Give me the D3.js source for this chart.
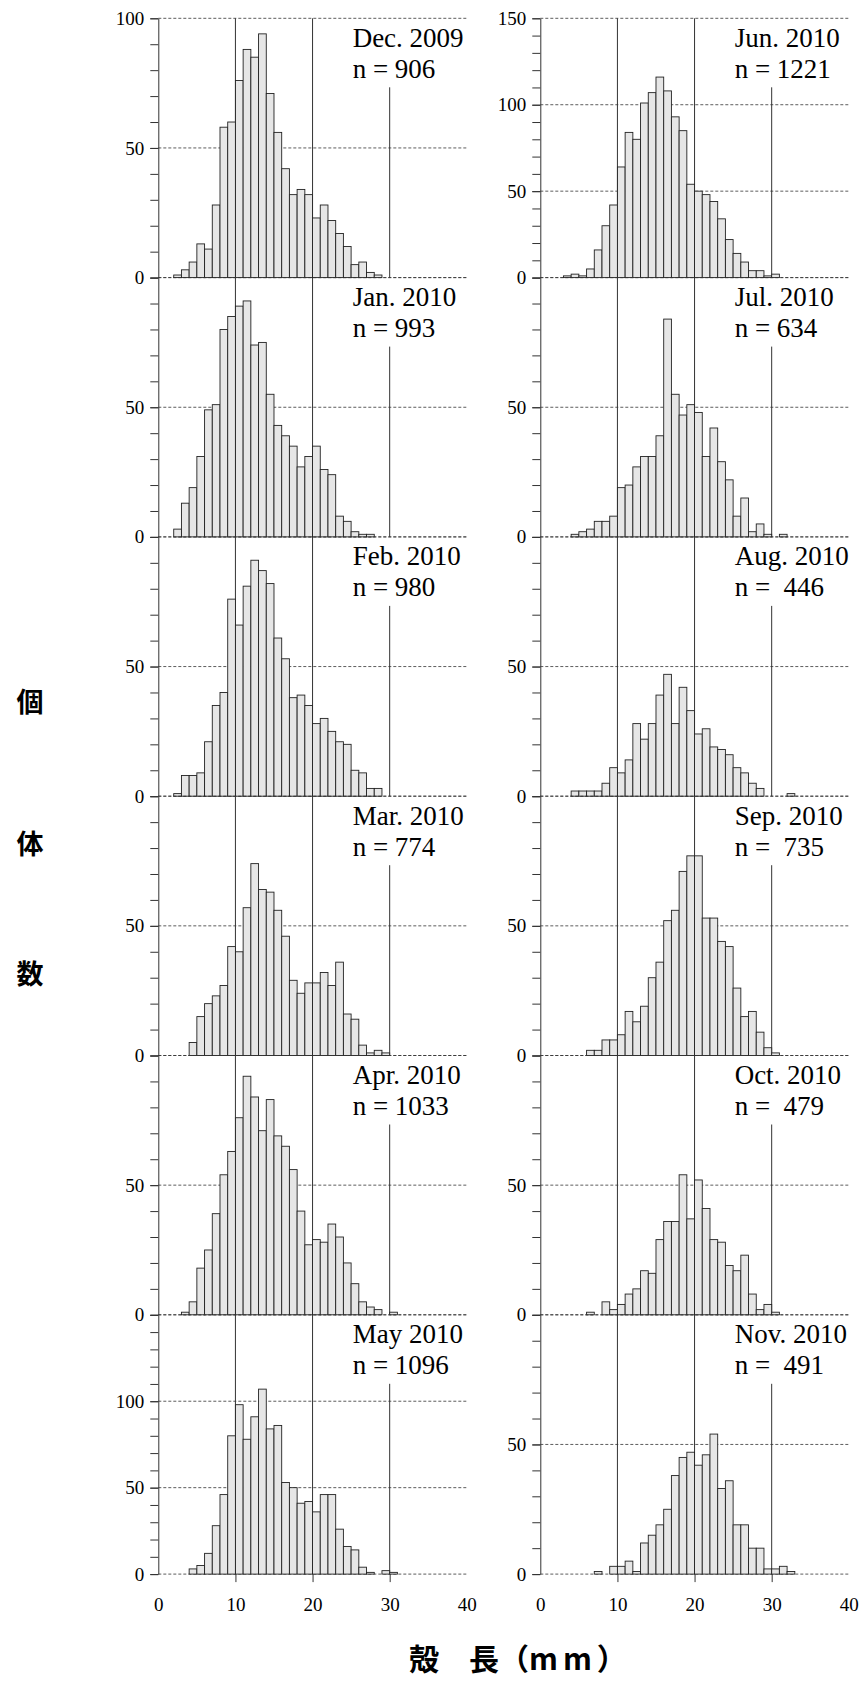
<!DOCTYPE html>
<html>
<head>
<meta charset="utf-8">
<script src="https://cdn.jsdelivr.net/npm/d3@7"></script>
<style>
  body { margin: 0; background: #fff; }
  svg { display: block; }
  .tick text { font-family: "Liberation Serif", serif; font-size: 19px; fill: #000; }
  .label { font-family: "Liberation Serif", serif; font-size: 27px; fill: #000; white-space: pre; }
  .title { font-family: "Noto Sans CJK JP", sans-serif; font-weight: bold; fill: #000; }
</style>
</head>
<body>
<svg id="chart" width="863" height="1698"></svg>
<script>
// panels: left column Dec..May, right column Jun..Nov
var months = ["Dec. 2009", "Jan. 2010", "Feb. 2010", "Mar. 2010", "Apr. 2010", "May 2010",
              "Jun. 2010", "Jul. 2010", "Aug. 2010", "Sep. 2010", "Oct. 2010", "Nov. 2010"];
var sampleText = ["906", "993", "980", "774", "1033", "1096",
                  "1221", "634", " 446", " 735", " 479", " 491"];
var yMax = [100, 100, 100, 100, 100, 150, 150, 100, 100, 100, 100, 100];
// first 1-mm size class (mm) of each count list
var firstBin = [2, 2, 2, 4, 3, 4, 3, 4, 4, 6, 6, 7];
var counts = [
  [1,3,6,13,11,28,58,60,76,88,85,94,71,56,42,32,34,32,23,28,22,17,12,5,6,2,1],
  [3,13,19,31,49,51,80,85,89,91,74,75,55,43,39,35,27,31,35,26,24,8,6,2,1,1],
  [1,8,8,9,21,35,40,76,66,81,91,87,82,61,53,38,39,35,28,30,25,21,20,10,9,3,3],
  [5,15,20,23,27,42,40,57,74,64,63,56,46,29,24,28,28,32,27,36,16,14,4,1,2,1],
  [1,5,18,25,39,54,63,76,92,84,71,83,69,65,56,40,27,29,28,35,30,20,12,5,3,2,0,1],
  [3,5,12,28,46,80,98,78,91,107,84,86,53,50,41,42,36,46,46,26,16,14,4,1,0,2,1],
  [1,2,1,5,16,30,42,64,84,80,101,107,116,108,93,85,54,50,48,44,34,22,14,9,4,4,1,2],
  [1,2,3,6,6,8,19,20,27,31,31,39,84,55,47,51,48,31,42,29,22,8,15,2,5,1,0,1],
  [2,2,2,2,5,11,9,14,28,22,28,39,47,28,42,33,24,26,19,18,16,11,9,5,3,0,0,0,1],
  [2,2,6,6,8,17,13,19,30,36,52,56,71,77,77,53,53,44,42,26,15,17,9,3,1],
  [1,0,5,2,4,8,10,17,16,29,36,36,54,37,52,41,29,28,19,17,23,8,2,4,1],
  [1,0,3,3,5,1,12,15,19,25,38,45,47,42,46,54,33,36,19,19,10,10,2,2,3,1]
];
var xTicks = [0, 10, 20, 30, 40];
var refLines = [10, 20, 30];

var svg = d3.select("#chart");
var colLeft = [158.3, 540.3];
var plotW = 308.5;
var top0 = 18.3, panelH = 259.3;

months.forEach(function(m, i) {
  var col = Math.floor(i / 6), row = i % 6;
  var top = top0 + row * panelH, bottom = top + panelH;
  var x = d3.scaleLinear().domain([0, 40]).range([colLeft[col], colLeft[col] + plotW]);
  var y = d3.scaleLinear().domain([0, yMax[i]]).range([bottom, top]);
  var g = svg.append("g");

  // dashed grid
  var grid = d3.range(0, yMax[i] + 1, 50);
  g.selectAll("line.grid").data(grid).enter().append("line")
    .attr("class", "grid")
    .attr("x1", x(0)).attr("x2", x(40))
    .attr("y1", function(d) { return y(d); }).attr("y2", function(d) { return y(d); })
    .attr("stroke", "#333").attr("stroke-width", 0.8).attr("stroke-dasharray", "3,2");

  // reference lines at 10,20 (full) and 30 (below label)
  g.selectAll("line.ref").data(refLines).enter().append("line")
    .attr("class", "ref")
    .attr("x1", function(d) { return x(d); }).attr("x2", function(d) { return x(d); })
    .attr("y1", function(d) { return d == 30 ? top + 69 : top; })
    .attr("y2", bottom)
    .attr("stroke", "#333").attr("stroke-width", 1);

  // bars
  var bars = counts[i].map(function(c, k) { return { bin: firstBin[i] + k, n: c }; })
    .filter(function(d) { return d.n > 0; });
  g.selectAll("rect").data(bars).enter().append("rect")
    .attr("x", function(d) { return x(d.bin); })
    .attr("width", function(d) { return x(d.bin + 1) - x(d.bin); })
    .attr("y", function(d) { return y(d.n); })
    .attr("height", function(d) { return y(0) - y(d.n); })
    .attr("fill", "#e6e6e6").attr("stroke", "#222").attr("stroke-width", 0.9);

  // y axis: minor ticks
  g.append("g").attr("transform", "translate(" + x(0) + ",0)")
    .call(d3.axisLeft(y).tickValues(d3.range(0, yMax[i] + 1, 10)).tickSize(8).tickSizeOuter(0).tickFormat(""))
    .call(function(a) { a.selectAll("line, path").attr("stroke", "#333"); });
  // y axis: labels
  var major = [0, 50, 100, 150].filter(function(v) { return v <= yMax[i] && (row == 0 || v < yMax[i]); });
  g.append("g").attr("transform", "translate(" + x(0) + ",0)")
    .call(d3.axisLeft(y).tickValues(major).tickSize(8).tickPadding(6).tickSizeOuter(0))
    .call(function(a) { a.select(".domain").remove(); a.selectAll("line").attr("stroke", "#333"); });

  // panel label
  var lx = x(25.2);
  var t = g.append("text").attr("class", "label");
  t.append("tspan").attr("x", lx).attr("y", top + 28.5).text(m);
  t.append("tspan").attr("x", lx).attr("y", top + 59.5).text("n = " + sampleText[i]);

  // bottom x axis
  if (row == 5) {
    var ax = g.append("g").attr("transform", "translate(0," + bottom + ")")
      .call(d3.axisBottom(x).tickValues(xTicks).tickSize(8).tickPadding(15).tickSizeOuter(0));
    ax.select(".domain").remove();
    ax.selectAll("line").attr("stroke", "#333")
      .attr("display", function(d) { return refLines.indexOf(d) < 0 ? "none" : null; });
  }
});

// axis titles
var yTitle = ["個", "体", "数"];
var yTitleY = [700, 842, 972];
svg.selectAll("text.ytitle").data(yTitle).enter().append("text")
  .attr("class", "title ytitle")
  .attr("x", 30).attr("y", function(d, i) { return yTitleY[i]; })
  .attr("text-anchor", "middle").attr("dominant-baseline", "central")
  .attr("font-size", 27).text(function(d) { return d; });

var xt = svg.append("text").attr("class", "title")
  .attr("x", 409).attr("y", 1657)
  .attr("dominant-baseline", "central")
  .attr("font-size", 30);
xt.append("tspan").text("殻\u3000長（");
xt.append("tspan").attr("letter-spacing", 5).text("mm");
xt.append("tspan").text("）");
</script>
</body>
</html>
